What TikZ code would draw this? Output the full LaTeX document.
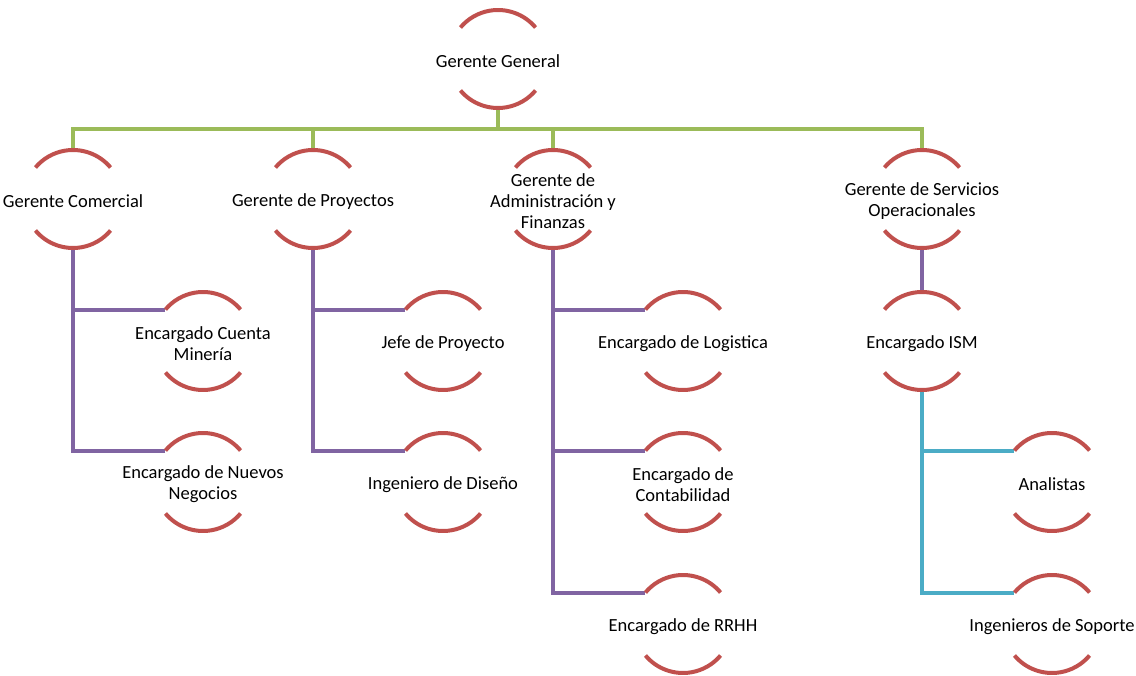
\documentclass[tikz,border=0pt]{standalone}
\usepackage{fontspec}
\setmainfont{Carlito}
\usetikzlibrary{calc}
\definecolor{arcred}{HTML}{C0504D}
\definecolor{lgreen}{HTML}{9BBB59}
\definecolor{lpurple}{HTML}{8064A2}
\definecolor{lcyan}{HTML}{4BACC6}
\pgfdeclarelayer{background}
\pgfsetlayers{background,main}
\newcommand{\orgnode}[4]{%
  \node[txt] (#1) at (#2,-#3) {#4};
  \coordinate (#1-c) at (#2,-#3);
  \draw[arcst] ($(#1-c)+(40:49pt)$) arc[start angle=40,end angle=140,radius=49pt];
  \draw[arcst] ($(#1-c)+(220:49pt)$) arc[start angle=220,end angle=320,radius=49pt];
  \coordinate (#1-t) at ($(#1-c)+(0pt,49pt)$);
  \coordinate (#1-b) at ($(#1-c)+(0pt,-49pt)$);
  \coordinate (#1-l) at ($(#1-c)+(140:49pt)$);
}
\begin{document}
\begin{tikzpicture}[x=1pt,y=1pt,
  txt/.style={align=center,inner sep=0pt,yshift=-2.5pt,text=black,font=\fontsize{18.5}{21}\selectfont},
  arcst/.style={draw=arcred,line width=4pt},
  gline/.style={draw=lgreen,line width=4pt},
  pline/.style={draw=lpurple,line width=4pt},
  cline/.style={draw=lcyan,line width=4pt}]
\useasboundingbox (0,0) rectangle (1136,-676);

\orgnode{GG}{498}{59}{Gerente General}
\orgnode{GC}{73}{199}{Gerente Comercial}
\orgnode{GP}{313}{199}{Gerente de Proyectos}
\orgnode{GA}{553}{199}{Gerente de\\Administración y\\Finanzas}
\orgnode{GS}{922}{199}{Gerente de Servicios\\Operacionales}
\orgnode{CM}{203}{341}{Encargado Cuenta\\Minería}
\orgnode{NN}{203}{482}{Encargado de Nuevos\\Negocios}
\orgnode{JP}{443}{341}{Jefe de Proyecto}
\orgnode{ID}{443}{482}{Ingeniero de Diseño}
\orgnode{EL}{683}{341}{Encargado de Logistica}
\orgnode{EC}{683}{482}{Encargado de\\Contabilidad}
\orgnode{ER}{683}{624}{Encargado de RRHH}
\orgnode{ISM}{922}{341}{Encargado ISM}
\orgnode{AN}{1052}{482}{Analistas}
\orgnode{IS}{1052}{624}{Ingenieros de Soporte}

\begin{pgfonlayer}{background}
\coordinate (bus) at ($(GG-b)+(0,-21)$);
\draw[gline] (GG-b) -- (bus);
\draw[gline] (bus) -| (GC-t);
\draw[gline] (bus) -| (GP-t);
\draw[gline] (bus) -| (GA-t);
\draw[gline] (bus) -| (GS-t);
\draw[pline] (GC-b) |- (CM-l);
\draw[pline] (GC-b) |- (NN-l);
\draw[pline] (GP-b) |- (JP-l);
\draw[pline] (GP-b) |- (ID-l);
\draw[pline] (GA-b) |- (EL-l);
\draw[pline] (GA-b) |- (EC-l);
\draw[pline] (GA-b) |- (ER-l);
\draw[pline] (GS-b) -- (ISM-t);
\draw[cline] (ISM-b) |- (AN-l);
\draw[cline] (ISM-b) |- (IS-l);
\end{pgfonlayer}
\end{tikzpicture}
\end{document}
